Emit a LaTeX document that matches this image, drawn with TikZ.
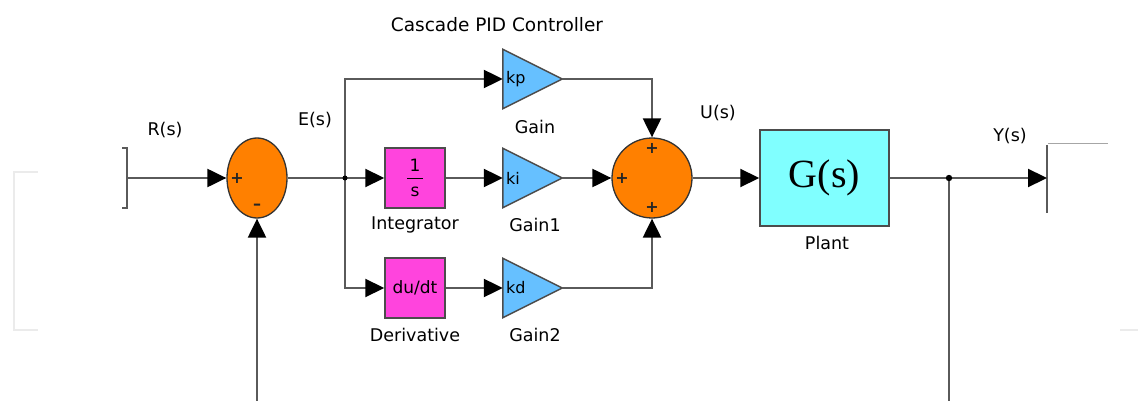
\documentclass[tikz,border=0pt]{standalone}
\usepackage{fontspec}
\setmainfont{DejaVu Sans}
\newfontfamily\gfont{Liberation Serif}
\usetikzlibrary{arrows.meta,shapes.geometric}
\definecolor{wirec}{HTML}{5A5A5A}
\definecolor{sumc}{HTML}{FF8000}
\definecolor{pinkc}{HTML}{FF44DD}
\definecolor{bluec}{HTML}{66C0FF}
\definecolor{cyanc}{HTML}{80FFFF}
\begin{document}
\begin{tikzpicture}[x=1pt,y=-1pt,
  wire/.style={draw=wirec,line width=2.2pt},
  arr/.style={wire,-{Triangle[length=19pt,width=18pt,color=black]}},
  lab/.style={font=\fontsize{17.5}{20}\selectfont,text=black,inner sep=0},
  sgn/.style={font=\fontsize{16}{16}\selectfont\bfseries,text=black!85,inner sep=0},
  sumnode/.style={ellipse,draw=black!80,line width=1.3pt,fill=sumc,inner sep=0},
  pinkbox/.style={rectangle,draw=black!70,line width=1.5pt,fill=pinkc,minimum width=60pt,minimum height=60pt,inner sep=0,font=\fontsize{17}{20}\selectfont},
  gainbox/.style={rectangle,minimum width=59pt,minimum height=59pt,inner sep=0},
  tri/.style={fill=bluec,draw=black!70,line width=1.5pt,line join=miter},
  gtext/.style={font=\fontsize{16}{18}\selectfont,inner sep=0,anchor=west},
  ftext/.style={font=\fontsize{17}{20}\selectfont,inner sep=0},
]
\path[use as bounding box] (0,0) rectangle (1138,401);

% faint frame remnants
\draw[draw=black!8,line width=1.5pt] (38,172) -- (14,172) -- (14,330) -- (38,330);
\draw[draw=black!35,line width=0.8pt] (1048,143) -- (1108,143);
\draw[draw=black!8,line width=1.5pt] (1120,330) -- (1138,330);

% blocks
\node[sumnode,minimum width=60pt,minimum height=80pt] (sum1) at (257,178) {};
\node[sumnode,circle,minimum size=80pt] (sum2) at (652,178) {};
\node[pinkbox] (integ) at (415,178) {};
\node[ftext] (one) at (415,165) {1};
\draw[black,line width=1.2pt] (407,178.5) -- (423,178.5);
\node[ftext] (ess) at (415,192) {s};
\node[pinkbox] (deriv) at (415,288) {du/dt};
\node[gainbox] (kp) at (532.5,79) {};
\node[gainbox] (ki) at (532.5,178) {};
\node[gainbox] (kd) at (532.5,288) {};
\foreach \g/\t in {kp/kp,ki/ki,kd/kd}{
  \draw[tri] (\g.north west) -- (\g.east) -- (\g.south west) -- cycle;
  \node[gtext] at ([xshift=3pt]\g.west) {\t};
}
\node[rectangle,draw=black!70,line width=1.5pt,fill=cyanc,minimum width=129pt,minimum height=96pt,inner sep=0,font=\gfont\fontsize{40}{44}\selectfont] (plant) at (824.5,178) {G(s)};

% coordinates
\coordinate (inport) at (127,178);
\coordinate (br) at (345,178);
\coordinate (tap) at (949,178);
\coordinate (outport) at (1047,178);
\coordinate (tapbot) at (949,401);
\coordinate (fbbot) at (257,401);

% ports
\draw[wire,line width=2pt] (122,148) -- (127,148) -- (127,208) -- (122,208);
\draw[wire,line width=2pt] (1047,145) -- (1047,213);

% connectors
\draw[arr] (inport) -- (sum1);
\draw[wire] (sum1) -- (br);
\draw[arr] (br) |- (kp.west);
\draw[arr] (br) |- (deriv.west);
\draw[arr] (br) -- (integ);
\draw[arr] (integ) -- (ki.west);
\draw[arr] (deriv) -- (kd.west);
\draw[arr] (kp.east) -| (sum2.north);
\draw[arr] (ki.east) -- (sum2.west);
\draw[arr] (kd.east) -| (sum2.south);
\draw[arr] (sum2) -- (plant);
\draw[wire] (plant) -- (tap);
\draw[arr] (tap) -- (outport);
\draw[wire] (tap) -- (tapbot);
\draw[arr] (fbbot) -- (sum1.south);
\fill[black] (br) circle (2.5);
\fill[black] (tap) circle (3.2);

% signs
\node[sgn] at (237,178) {+};
\node[sgn] at (257,207) {\textendash};
\node[sgn] at (652,148) {+};
\node[sgn] at (622,178) {+};
\node[sgn] at (652,207) {+};

% labels
\node[lab,font=\fontsize{18.5}{20}\selectfont] (title) at (497,25) {Cascade PID Controller};
\node[lab] (lr) at (165,130) {R(s)};
\node[lab] (le) at (315,120) {E(s)};
\node[lab] (lu) at (718,113) {U(s)};
\node[lab] (ly) at (1010,136) {Y(s)};
\node[lab] (lg) at (535,127) {Gain};
\node[lab] (lg1) at (535,225) {Gain1};
\node[lab] (lint) at (415,225) {Integrator};
\node[lab] (lder) at (415,335) {Derivative};
\node[lab] (lg2) at (535,335) {Gain2};
\node[lab] (lp) at (827,243) {Plant};
\end{tikzpicture}
\end{document}
